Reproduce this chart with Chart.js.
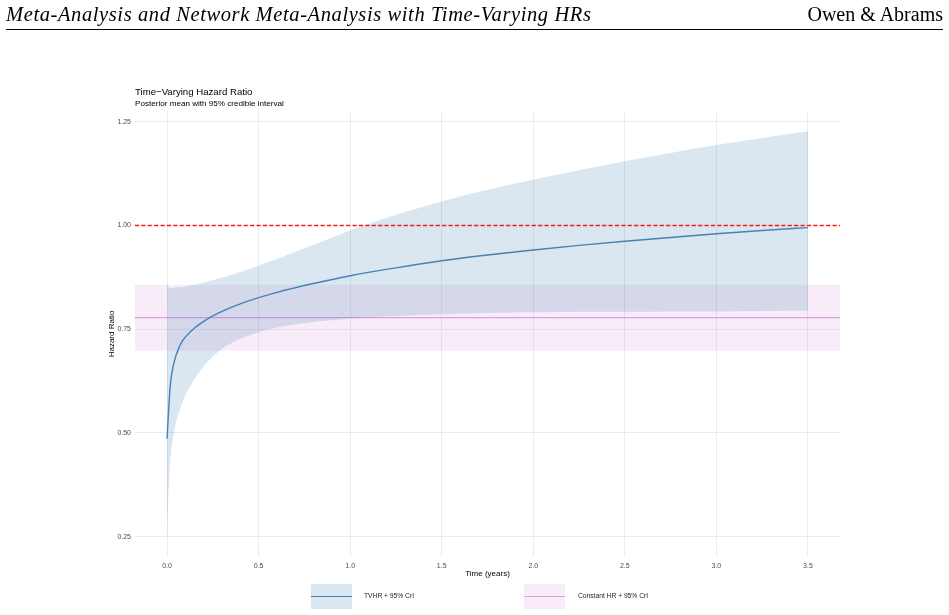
<!DOCTYPE html>
<html>
<head>
<meta charset="utf-8">
<title>Time-Varying Hazard Ratio</title>
<script src="https://cdn.jsdelivr.net/npm/chart.js@4.4.1/dist/chart.umd.min.js"></script>
<style>
  html, body { margin: 0; padding: 0; background: #fff; }
  body { width: 949px; height: 615px; position: relative; overflow: hidden; font-family: "Liberation Sans", Arial, sans-serif; }
  #chart1 { position: absolute; left: 0; top: 0; }
  .abs { position: absolute; white-space: nowrap; }
  .header { font-family: "Liberation Serif", "Times New Roman", serif; font-size: 20px; line-height: 20px; top: 4px; color: #000; }
  .key { position: absolute; width: 41px; height: 25px; top: 584px; }
  .key .ln { position: absolute; left: 0; right: 0; top: 11.5px; height: 1.4px; }
  .lbl { font-size: 6.7px; line-height: 6.7px; top: 592.7px; color: #222; }
</style>
</head>
<body>

<canvas id="chart1" width="949" height="615"></canvas>

<div class="abs header" style="left:6px; font-style:italic; font-size:20.5px; letter-spacing:0.6px">Meta-Analysis and Network Meta-Analysis with Time-Varying HRs</div>
<div class="abs header" style="right:6px">Owen &amp; Abrams</div>
<div class="abs" style="left:6px; top:29px; width:937px; height:1px; background:#000"></div>

<div class="abs" style="left:135px; top:87px; font-size:9.65px; line-height:9.65px; color:#000">Time−Varying Hazard Ratio</div>
<div class="abs" style="left:135px; top:100px; font-size:8.1px; line-height:8.1px; color:#000">Posterior mean with 95% credible interval</div>

<div class="key" style="left:311px; background:rgb(218,230,240)"><div class="ln" style="background:#4682B4"></div></div>
<div class="abs lbl" style="left:364px">TVHR + 95% CrI</div>
<div class="key" style="left:524px; background:rgb(248,236,248)"><div class="ln" style="background:#DDA0DD"></div></div>
<div class="abs lbl" style="left:578px">Constant HR + 95% CrI</div>

<script>
// time grid (years) and posterior summaries of the time-varying HR
const times = [0, 0.008, 0.0175, 0.035, 0.07, 0.1, 0.15, 0.2, 0.25, 0.3, 0.4, 0.5, 0.6, 0.7, 0.85,
  1.0, 1.25, 1.5, 1.75, 2.0, 2.25, 2.5, 2.75, 3.0, 3.25, 3.5];
const tvhrMean = [0.486, 0.55, 0.614, 0.664, 0.711, 0.731, 0.753, 0.769, 0.782, 0.793, 0.811, 0.826, 0.839, 0.850, 0.865,
  0.879, 0.898, 0.915, 0.929, 0.941, 0.952, 0.962, 0.971, 0.980, 0.988, 0.995];
const tvhrUpper = [0.860, 0.852, 0.849, 0.850, 0.851, 0.853, 0.857, 0.862, 0.868, 0.874, 0.888, 0.903, 0.919, 0.936, 0.962,
  0.988, 1.026, 1.058, 1.086, 1.110, 1.133, 1.155, 1.175, 1.194, 1.211, 1.227];
const tvhrLower = [0.25, 0.36, 0.43, 0.495, 0.556, 0.59, 0.63, 0.66, 0.684, 0.703, 0.727, 0.743, 0.754, 0.762, 0.770,
  0.776, 0.782, 0.786, 0.789, 0.791, 0.792, 0.792, 0.793, 0.793, 0.794, 0.795];

// constant HR: mean, lower, upper
const constHR = [0.778, 0.698, 0.857];
const refLine = 1.0;

const xTicks = [0, 0.5, 1, 1.5, 2, 2.5, 3, 3.5];
const xTickLabels = ['0.0', '0.5', '1.0', '1.5', '2.0', '2.5', '3.0', '3.5'];
const yTicks = [0.25, 0.5, 0.75, 1.0, 1.25];
const yTickLabels = ['0.25', '0.50', '0.75', '1.00', '1.25'];

// axis limits (data range plus 5% each side)
const X_MIN = -0.175, X_MAX = 3.675;
const Y_MIN = 0.201, Y_MAX = 1.276;

function series(ys) {
  return ys.map((y, i) => ({ x: times[i], y: y }));
}
function flat(y) {
  return [{ x: X_MIN, y: y }, { x: X_MAX, y: y }];
}

const config = {
  type: 'line',
  data: {
    datasets: [
      {
        label: 'ref', data: flat(refLine), pointRadius: 0, fill: false,
        borderColor: 'rgb(255,20,20)', borderWidth: 1.3, borderDash: [4, 2.4]
      },
      {
        label: 'TVHR', data: series(tvhrMean), pointRadius: 0, fill: false,
        borderColor: '#4682B4', borderWidth: 1.4, cubicInterpolationMode: 'monotone'
      },
      {
        label: 'TVHR upper', data: series(tvhrUpper), pointRadius: 0, borderWidth: 0,
        borderColor: 'rgba(0,0,0,0)', cubicInterpolationMode: 'monotone',
        fill: '+1', backgroundColor: 'rgba(70,130,180,0.2)'
      },
      {
        label: 'TVHR lower', data: series(tvhrLower), pointRadius: 0, borderWidth: 0,
        borderColor: 'rgba(0,0,0,0)', cubicInterpolationMode: 'monotone', fill: false
      },
      {
        label: 'Constant HR', data: flat(constHR[0]), pointRadius: 0, fill: false,
        borderColor: '#DDA0DD', borderWidth: 1.2
      },
      {
        label: 'Constant upper', data: flat(constHR[2]), pointRadius: 0, borderWidth: 0,
        borderColor: 'rgba(0,0,0,0)', fill: '+1', backgroundColor: 'rgba(221,160,221,0.2)'
      },
      {
        label: 'Constant lower', data: flat(constHR[1]), pointRadius: 0, borderWidth: 0,
        borderColor: 'rgba(0,0,0,0)', fill: false
      }
    ]
  },
  options: {
    responsive: false,
    animation: false,
    events: [],
    layout: { padding: { top: 111, left: 107, right: 109, bottom: 36 } },
    plugins: {
      legend: { display: false },
      tooltip: { enabled: false }
    },
    scales: {
      x: {
        type: 'linear',
        min: X_MIN,
        max: X_MAX,
        afterBuildTicks: axis => { axis.ticks = xTicks.map(v => ({ value: v })); },
        afterFit: axis => { axis.height = 22; },
        grid: { color: '#EBEBEB', lineWidth: 1, drawTicks: false },
        border: { display: false },
        ticks: {
          autoSkip: false, maxRotation: 0, padding: 5,
          color: '#4D4D4D',
          font: { family: 'Liberation Sans', size: 7 },
          callback: (v, i) => xTickLabels[i]
        },
        title: {
          display: true, text: 'Time (years)', color: '#000',
          font: { family: 'Liberation Sans', size: 8 },
          padding: 0
        }
      },
      y: {
        type: 'linear',
        min: Y_MIN,
        max: Y_MAX,
        afterBuildTicks: axis => { axis.ticks = yTicks.map(v => ({ value: v })); },
        afterFit: axis => { axis.width = 28; },
        grid: { color: '#EBEBEB', lineWidth: 1, drawTicks: false },
        border: { display: false },
        ticks: {
          autoSkip: false, padding: 4,
          color: '#4D4D4D',
          font: { family: 'Liberation Sans', size: 7 },
          callback: (v, i) => yTickLabels[i]
        },
        title: {
          display: true, text: 'Hazard Ratio', color: '#000',
          font: { family: 'Liberation Sans', size: 8 },
          padding: 0
        }
      }
    }
  }
};

new Chart(document.getElementById('chart1'), config);
</script>
</body>
</html>
